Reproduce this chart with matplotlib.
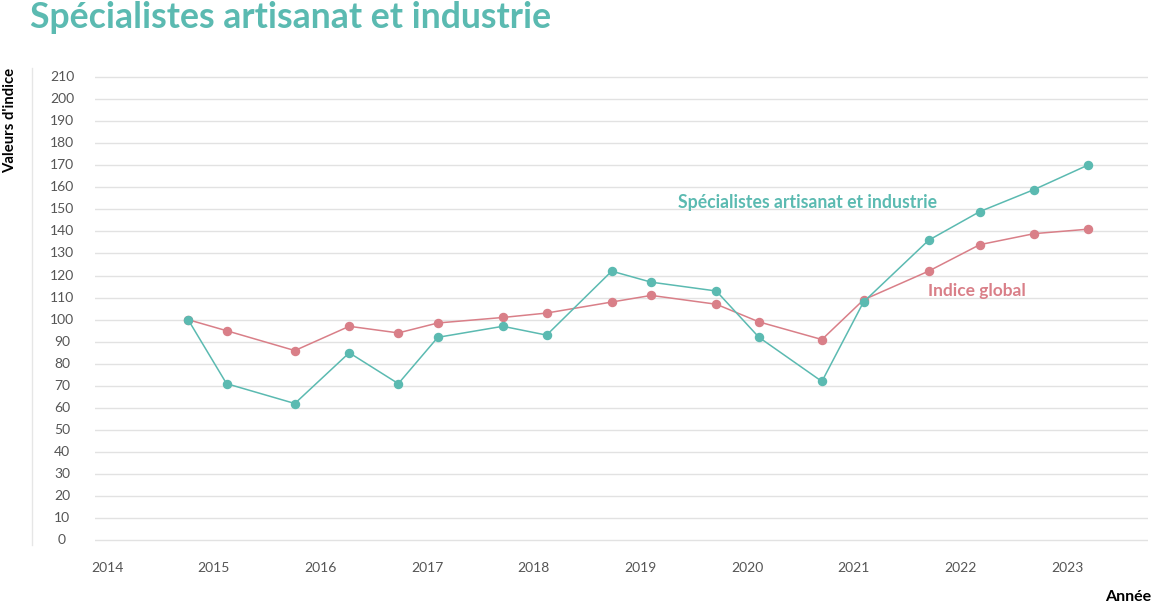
import numpy as np
import matplotlib
matplotlib.use('Agg')
import matplotlib.pyplot as plt

plt.rcParams['font.family'] = ['Lato', 'DejaVu Sans']

# data (decimal years)
periods = [2014.76, 2015.12, 2015.76, 2016.27, 2016.73, 2017.10, 2017.71, 2018.12, 2018.73,
           2019.10, 2019.71, 2020.11, 2020.70, 2021.09, 2021.70, 2022.18, 2022.69, 2023.19]
specialistes = [100, 71, 62, 85, 71, 92, 97, 93, 122, 117, 113, 92, 72, 108, 136, 149, 159, 170]
indice_global = [100, 95, 86, 97, 94, 98.5, 101, 103, 108, 111, 107, 99, 91, 109, 122, 134, 139, 141]
years = list(range(2014, 2024))
yticks = list(range(0, 211, 10))

teal = '#5bbab1'
red = '#d97f88'

fig = plt.figure(figsize=(11.52, 6.11), dpi=100)
ax = fig.add_axes([0.0825, 0.1085, 0.914, 0.7727])

ax.plot(periods, indice_global, color=red, lw=1.1, marker='o', ms=5.8, zorder=3)
ax.plot(periods, specialistes, color=teal, lw=1.1, marker='o', ms=5.8, zorder=4)

ax.set_xlim(2013.8875, 2023.756)
ax.set_ylim(-2, 212)
ax.set_yticks(yticks)
ax.set_xticks(years)
ax.set_yticklabels([])
ax.set_xticklabels([])
ax.tick_params(length=0)
for s in ax.spines.values():
    s.set_visible(False)
ax.grid(axis='y', color='#e2e2e2', lw=1)
ax.set_axisbelow(True)

# tick labels placed by hand in figure coords where needed
for v in yticks:
    ax.annotate(str(v), xy=(0, v), xycoords=('figure fraction', 'data'), xytext=(62, 0),
                textcoords='offset pixels', ha='center', va='center', fontsize=10, color='#555555')
for yr in years:
    ax.annotate(str(yr), xy=(yr, 0), xycoords=('data', 'figure fraction'), xytext=(0, 43),
                textcoords='offset pixels', ha='center', va='center', fontsize=10, color='#555555')

fig.text(30 / 1152, 1 - 18 / 611, 'Spécialistes artisanat et industrie', color=teal,
         fontsize=25.7, fontweight='bold', ha='left', va='center')
fig.text(10 / 1152, 1 - 68 / 611, "Valeurs d'indice", rotation=90, fontsize=10.7,
         fontweight='bold', ha='center', va='top', color='black')
fig.text(1128 / 1152, 1 - 597 / 611, 'Année', fontsize=11.5, fontweight='bold',
         ha='center', va='center', color='black')
fig.add_artist(plt.Line2D([32 / 1152, 32 / 1152], [1 - 68 / 611, 1 - 545 / 611],
                          color='#e6e6e6', lw=1))

ax.text(2020.565, 153, 'Spécialistes artisanat et industrie', color=teal, fontsize=12.7,
        fontweight='bold', ha='center', va='center')
ax.text(2022.154, 113, 'Indice global', color=red, fontsize=12.5,
        fontweight='bold', ha='center', va='center')

fig.savefig('out.png', dpi=100)
